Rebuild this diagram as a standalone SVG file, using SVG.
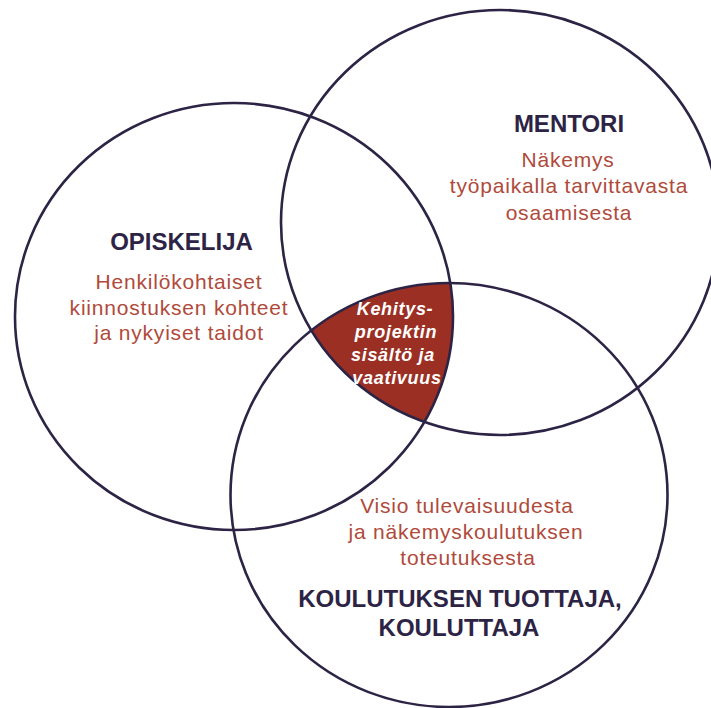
<svg xmlns="http://www.w3.org/2000/svg" width="711" height="708" viewBox="0 0 711 708">
<style>
.ring{fill:none;stroke:#2d2445;stroke-width:2.6}
.title{font-family:"Liberation Sans",Arial,sans-serif;font-weight:bold;font-size:24px;fill:#2d2445;text-anchor:middle}
.desc{font-family:"Liberation Sans",Arial,sans-serif;font-size:21px;fill:#b04a3b;text-anchor:middle;letter-spacing:0.8px}
.core{font-family:"Liberation Sans",Arial,sans-serif;font-weight:bold;font-style:italic;font-size:18px;fill:#ffffff;text-anchor:middle;letter-spacing:0.7px}
</style>
<defs>
<clipPath id="c2"><ellipse cx="500" cy="222.5" rx="219" ry="212.5"/></clipPath>
<clipPath id="c3"><ellipse cx="449" cy="495" rx="218.5" ry="212"/></clipPath>
</defs>
<rect x="0" y="0" width="711" height="708" fill="#ffffff"/>
<g id="overlap">
<g clip-path="url(#c2)">
<ellipse cx="234" cy="316.5" rx="219" ry="213.5" fill="#9b2f24" clip-path="url(#c3)"/>
</g>
</g>
<g id="connectors">
<ellipse class="ring" cx="234" cy="316.5" rx="219" ry="213.5"/>
<ellipse class="ring" cx="500" cy="222.5" rx="219" ry="212.5"/>
<ellipse class="ring" cx="449" cy="495" rx="218.5" ry="212"/>
</g>
<g id="opiskelija">
<text class="title" x="181.5" y="250">OPISKELIJA</text>
<text class="desc" x="179" y="289">Henkilökohtaiset</text>
<text class="desc" x="179" y="314.5">kiinnostuksen kohteet</text>
<text class="desc" x="179" y="340">ja nykyiset taidot</text>
</g>
<g id="mentori">
<text class="title" x="569" y="132">MENTORI</text>
<text class="desc" x="568" y="167">Näkemys</text>
<text class="desc" x="569" y="193">työpaikalla tarvittavasta</text>
<text class="desc" x="569" y="219.5">osaamisesta</text>
</g>
<g id="koulutus">
<text class="desc" x="467" y="513">Visio tulevaisuudesta</text>
<text class="desc" x="466" y="539">ja näkemyskoulutuksen</text>
<text class="desc" x="468" y="565">toteutuksesta</text>
<text class="title" x="460" y="607">KOULUTUKSEN TUOTTAJA,</text>
<text class="title" x="459" y="636">KOULUTTAJA</text>
</g>
<g id="kehitysprojekti">
<text class="core" x="395" y="315">Kehitys-</text>
<text class="core" x="396" y="338">projektin</text>
<text class="core" x="393" y="361">sisältö ja</text>
<text class="core" x="397" y="384">vaativuus</text>
</g>
</svg>
